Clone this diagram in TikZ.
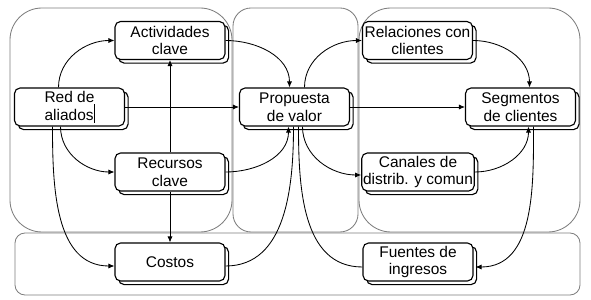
\documentclass[tikz,border=0pt]{standalone}
\usepackage{fontspec}
\setmainfont{Liberation Sans}
\usetikzlibrary{arrows.meta,calc,shadows}
\definecolor{panel}{RGB}{125,125,125}

\begin{document}
\begin{tikzpicture}[x=0.025cm,y=-0.025cm,
  block/.style={draw,thick,fill=white,rounded corners=1.4mm,
                minimum width=2.75cm,minimum height=0.95cm,inner sep=1pt,
                align=center,font=\fontsize{11}{12.5}\selectfont,
                copy shadow={shadow xshift=0.09cm,shadow yshift=-0.09cm,draw,thick,fill=white}},
  zone/.style={draw=panel,line width=0.6pt},
  msg/.style={-{Latex[length=1.5mm,width=1.3mm]},semithick},
  link/.style={semithick}
]
\useasboundingbox (0,0) rectangle (591,300);
% zonas del lienzo
\draw[zone,rounded corners=0.8cm] (10,8) rectangle (232,232);
\draw[zone,rounded corners=0.45cm] (233,8) rectangle (358,232);
\draw[zone,rounded corners=0.8cm] (359,8) rectangle (580,232);
\draw[zone,rounded corners=0.25cm] (15,233) rectangle (580,295);
% bloques
\node[block] (act) at (170,40.5) {Actividades\\clave};
\node[block] (red) at (69.5,107) {Red de\\aliados\rule[-0.3ex]{0.5pt}{2.3ex}};
\node[block] (prop) at (294.5,107) {Propuesta\\de valor};
\node[block] (rel) at (417.5,40.5) {Relaciones con\\clientes};
\node[block] (seg) at (520.5,107) {Segmentos\\de clientes};
\node[block] (rec) at (170,172) {Recursos\\clave};
\node[block] (can) at (418,172) {Canales de\\distrib. y comun};
\node[block] (cos) at (170,262) {Costos};
\node[block] (fue) at (418,262) {Fuentes de\\ingresos};
% relaciones
\draw[msg] ($(red.north)+(-11,0)$) to[out=90,in=180] (act.west);
\draw[msg] (red.east) -- (prop.west);
\draw[msg] ($(red.south)+(-9,0)$) to[out=-90,in=180] (rec.west);
\draw[msg] ($(red.south)+(-17,0)$) to[out=-90,in=180] ($(cos.west)+(0,4)$);
\draw[msg] (rec.north) -- (act.south);
\draw[msg] (rec.south) -- (cos.north);
\draw[msg] (act.east) to[out=0,in=90] ($(prop.north)+(-5,0)$);
\draw[msg] (rec.east) to[out=0,in=-90] ($(prop.south)+(-6,0)$);
\draw[link] ($(cos.east)+(0,4)$) to[out=0,in=-90] ($(prop.south)+(-1,0)$);
\draw[msg] ($(prop.north)+(10,0)$) to[out=90,in=180] (rel.west);
\draw[msg] (prop.east) -- (seg.west);
\draw[msg] ($(prop.south)+(8,0)$) to[out=-90,in=180] ($(can.west)+(0,3)$);
\draw[link] ($(prop.south)+(4,0)$) to[out=-90,in=180] ($(fue.west)+(0,5)$);
\draw[msg] (rel.east) to[out=0,in=90] ($(seg.north)+(9,0)$);
\draw[msg] (can.east) to[out=0,in=-90] ($(seg.south)+(8,0)$);
\draw[msg] ($(seg.south)+(13,0)$) to[out=-90,in=0] ($(fue.east)+(2,5)$);
\end{tikzpicture}
\end{document}
